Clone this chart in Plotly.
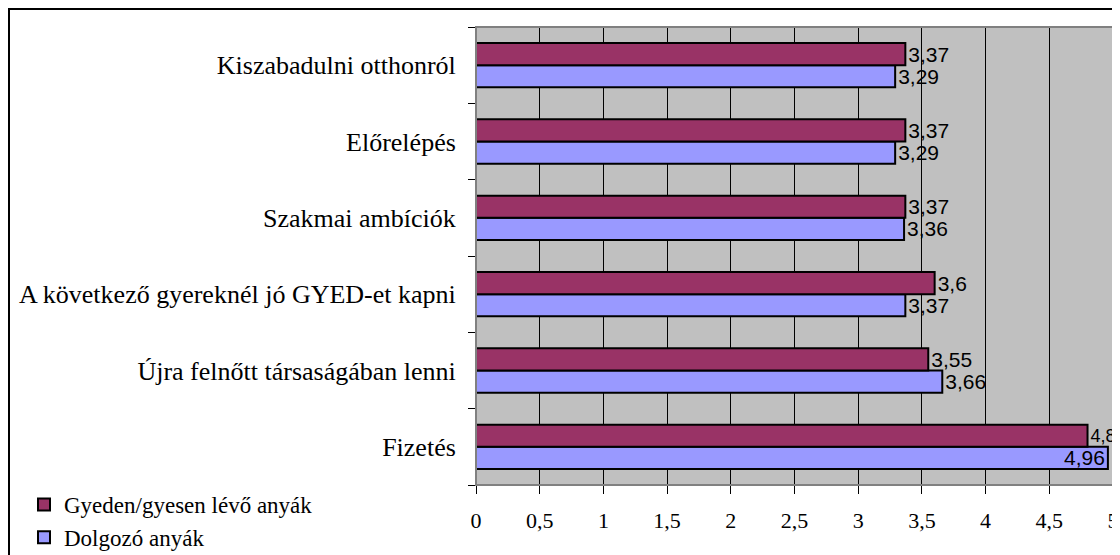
import plotly.graph_objects as go

categories = ["Fizetés", "Újra felnőtt társaságában lenni", "A következő gyereknél jó GYED-et kapni",
              "Szakmai ambíciók", "Előrelépés", "Kiszabadulni otthonról"]
gyed_values = [4.8, 3.55, 3.6, 3.37, 3.37, 3.37]
dolg_values = [4.96, 3.66, 3.37, 3.36, 3.29, 3.29]
x_ticks = [0, 0.5, 1, 1.5, 2, 2.5, 3, 3.5, 4, 4.5, 5]
x_ticklabels = ["0", "0,5", "1", "1,5", "2", "2,5", "3", "3,5", "4", "4,5", "5"]

def fmt(v):
    return ("%g" % v).replace(".", ",")

# the page body has an 8px margin, so the figure is sized to fit the window
W, H = 1112, 547
L, R, T, B = 468, 7, 19, 70
pw, ph = W - L - R, H - T - B

fig = go.Figure()
fig.add_trace(go.Bar(
    y=categories, x=dolg_values, orientation="h", name="Dolgozó anyák",
    marker=dict(color="#9999FF", line=dict(color="black", width=2)),
    text=[fmt(v) for v in dolg_values],
    textposition=["inside" if v > 4.9 else "outside" for v in dolg_values],
    insidetextanchor="end", constraintext="none",
    textfont=dict(family="Liberation Sans", size=21, color="black"),
    insidetextfont=dict(family="Liberation Sans", size=21, color="black"),
    outsidetextfont=dict(family="Liberation Sans", size=21, color="black"),
    cliponaxis=False, legendrank=2,
))
gsize = [18 if v > 4.7 else 21 for v in gyed_values]
fig.add_trace(go.Bar(
    y=categories, x=gyed_values, orientation="h", name="Gyeden/gyesen lévő anyák",
    marker=dict(color="#993366", line=dict(color="black", width=2)),
    text=[fmt(v) for v in gyed_values], textposition="outside", constraintext="none",
    textfont=dict(family="Liberation Sans", size=gsize, color="black"),
    outsidetextfont=dict(family="Liberation Sans", size=gsize, color="black"),
    cliponaxis=False, legendrank=1,
))

fig.update_layout(
    width=W, height=H,
    margin=dict(l=L, r=R, t=T, b=B, autoexpand=False),
    barmode="group", bargap=0.42, bargroupgap=0,
    plot_bgcolor="#C0C0C0", paper_bgcolor="white",
    font=dict(family="Liberation Serif", size=24, color="black"),
    showlegend=True,
    legend=dict(x=(16 - L) / pw, y=(H - B - 475) / ph, xanchor="left", yanchor="top",
                bgcolor="rgba(0,0,0,0)", font=dict(family="Liberation Serif", size=23),
                tracegroupgap=0, itemwidth=30),
)
fig.update_xaxes(
    range=[0, 5], tickvals=x_ticks, ticktext=x_ticklabels,
    showgrid=True, gridcolor="black", gridwidth=1,
    showline=True, linecolor="black", linewidth=1,
    ticks="outside", ticklen=8, tickcolor="black",
    tickfont=dict(family="Liberation Serif", size=22), ticklabelstandoff=8,
    zeroline=False, fixedrange=True,
)
fig.update_yaxes(
    categoryorder="array", categoryarray=categories,
    showgrid=False, showline=True, linecolor="black", linewidth=1,
    ticks="outside", ticklen=7, tickcolor="black", tickson="boundaries",
    tickfont=dict(family="Liberation Serif", size=26), ticklabelstandoff=14,
    fixedrange=True,
)
# plot area border (grey)
fig.add_shape(type="rect", xref="paper", yref="paper", x0=0, x1=1, y0=0, y1=1,
              line=dict(color="#808080", width=2), layer="above")
# outer chart frame
fig.add_shape(type="rect", xref="paper", yref="paper",
              x0=(1 - L) / pw, x1=(W + 20 - L) / pw, y0=-(B + 20) / ph, y1=(H - B - 1) / ph,
              line=dict(color="black", width=2), layer="above")
fig.write_html("out.html")
